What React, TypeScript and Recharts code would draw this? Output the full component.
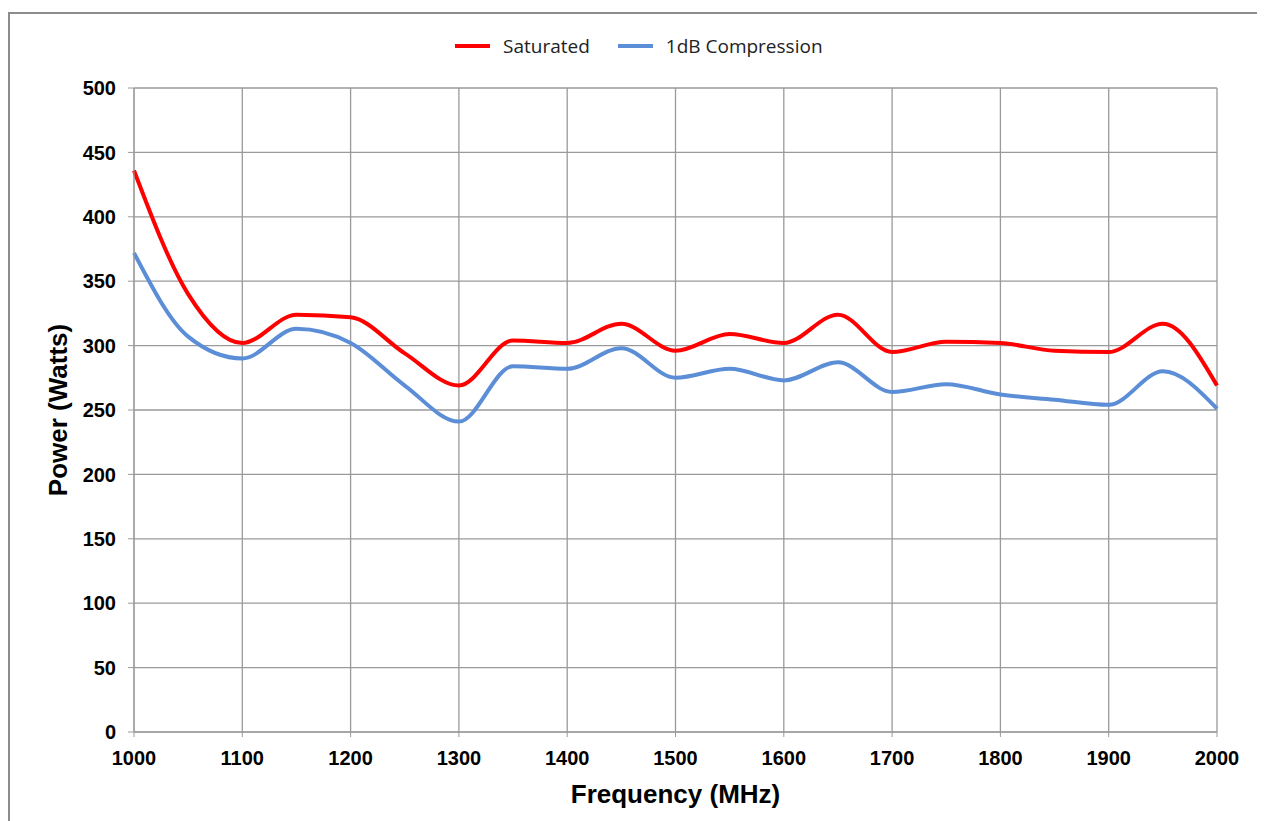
import { LineChart, Line, XAxis, YAxis, CartesianGrid } from 'recharts';

const FREQ = [1000, 1050, 1100, 1150, 1200, 1250, 1300, 1350, 1400, 1450, 1500, 1550, 1600, 1650, 1700, 1750, 1800, 1850, 1900, 1950, 2000];
const SATURATED = [436, 340, 302, 324, 322, 294, 269, 304, 302, 317, 296, 309, 302, 324, 295, 303, 302, 296, 295, 317, 269];
const COMPRESSION = [372, 307, 290, 313, 302, 269, 241, 284, 282, 298, 275, 282, 273, 287, 264, 270, 262, 258, 254, 280, 251];
const X_TICKS = [1000, 1100, 1200, 1300, 1400, 1500, 1600, 1700, 1800, 1900, 2000];
const Y_TICKS = [0, 50, 100, 150, 200, 250, 300, 350, 400, 450, 500];

const data = FREQ.map((f, i) => ({ freq: f, sat: SATURATED[i], comp: COMPRESSION[i] }));

const RED = '#ff0000';
const BLUE = '#5b8ed6';
const GRID = '#9a9a9a';
const FONT = 'Arial, "Liberation Sans", sans-serif';
const TICK = { fontSize: 20, fontWeight: 700, fill: '#000', fontFamily: FONT };

function LegendBox() {
  const items = [
    { name: 'Saturated', color: RED },
    { name: '1dB Compression', color: BLUE },
  ];
  return (
    <div
      style={{
        position: 'absolute',
        left: 447,
        top: 25,
        display: 'flex',
        gap: 28,
        fontFamily: '"Open Sans", sans-serif',
        fontSize: 19,
        color: '#222',
        whiteSpace: 'nowrap',
      }}
    >
      {items.map((it) => (
        <div key={it.name} style={{ display: 'flex', alignItems: 'center' }}>
          <span style={{ display: 'inline-block', width: 35, height: 4, background: it.color, marginRight: 13 }} />
          <span>{it.name}</span>
        </div>
      ))}
    </div>
  );
}

export default function App() {
  return (
    <div style={{ position: 'relative', width: 1257, height: 813 }}>
      <div
        style={{
          position: 'absolute',
          left: 0,
          top: 4,
          width: 1256,
          height: 830,
          border: '2px solid #8c8c8c',
          boxSizing: 'border-box',
        }}
      />
      <LegendBox />
      <div style={{ position: 'absolute', left: 0, top: 0 }}>
        <LineChart width={1257} height={813} data={data} margin={{ top: 80, right: 48, left: 0, bottom: 0 }}>
          <CartesianGrid stroke={GRID} strokeWidth={1.3} />
          <XAxis
            dataKey="freq"
            type="number"
            domain={[1000, 2000]}
            ticks={X_TICKS}
            height={89}
            tickSize={5}
            tickMargin={14}
            tick={TICK}
            stroke={GRID}
            label={{
              value: 'Frequency (MHz)',
              position: 'insideBottom',
              offset: 18,
              style: { fontSize: 26, fontWeight: 700, fill: '#000', fontFamily: FONT },
            }}
          />
          <YAxis
            type="number"
            domain={[0, 500]}
            ticks={Y_TICKS}
            width={126}
            tickSize={6}
            tickMargin={12}
            tick={TICK}
            stroke={GRID}
            label={{
              value: 'Power (Watts)',
              angle: -90,
              position: 'insideLeft',
              offset: 50,
              style: { textAnchor: 'middle', fontSize: 26, fontWeight: 700, fill: '#000', fontFamily: FONT },
            }}
          />
          <Line type="monotone" dataKey="sat" name="Saturated" stroke={RED} strokeWidth={4} dot={false} isAnimationActive={false} />
          <Line type="monotone" dataKey="comp" name="1dB Compression" stroke={BLUE} strokeWidth={4} dot={false} isAnimationActive={false} />
        </LineChart>
      </div>
    </div>
  );
}
